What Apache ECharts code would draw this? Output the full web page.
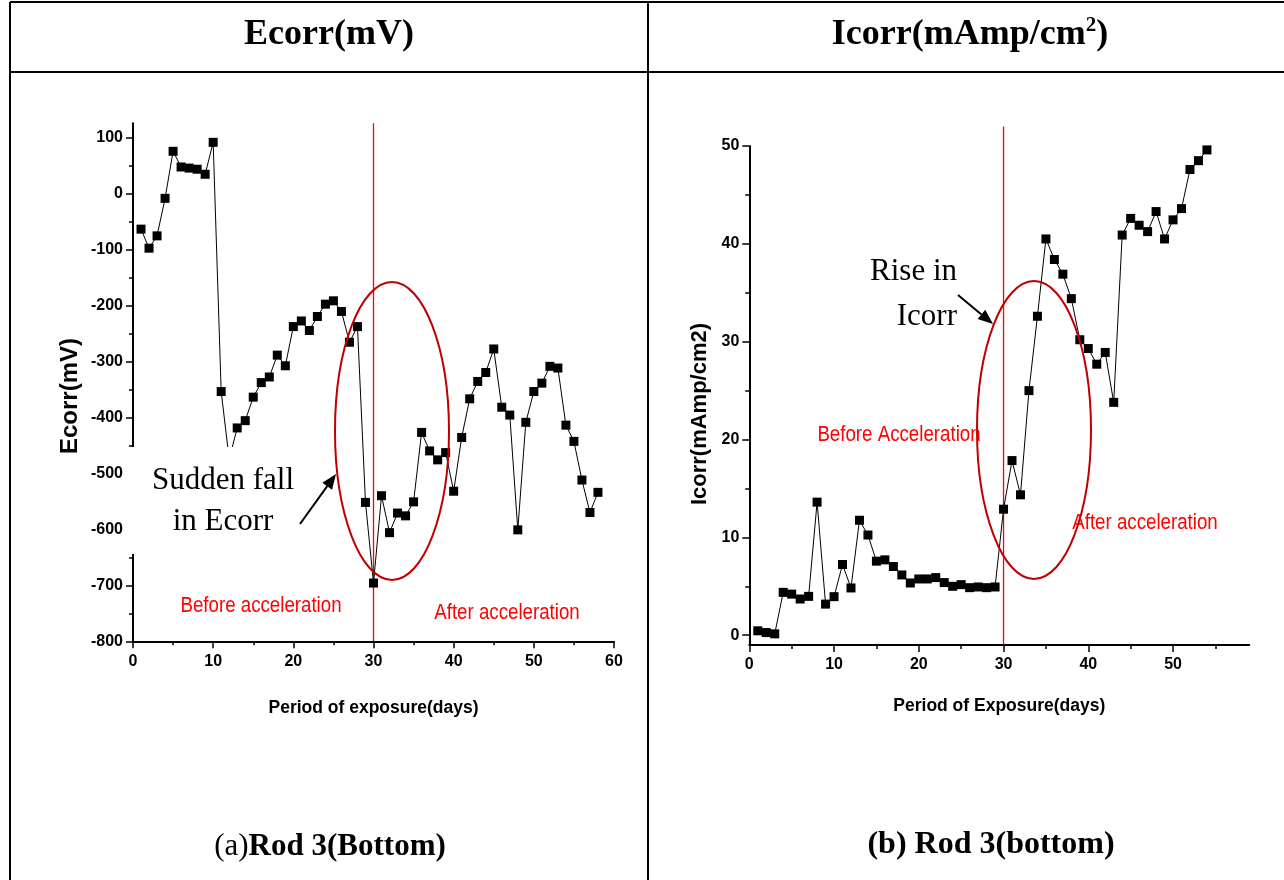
<!DOCTYPE html>
<html>
<head>
<meta charset="utf-8">
<title>Rod 3 (Bottom) - Ecorr and Icorr</title>
<script src="https://cdn.jsdelivr.net/npm/echarts@6/dist/echarts.min.js"></script>
<style>
  html, body { margin: 0; padding: 0; background: #fff; }
  #chart { width: 1284px; height: 880px; }
</style>
</head>
<body>
<div id="chart"></div>
<script>
// Ecorr (mV) vs period of exposure (days)
const ecorrDays = [1, 2, 3, 4, 5, 6, 7, 8, 9, 10, 11, 12, 13, 14, 15, 16, 17, 18, 19, 20,
  21, 22, 23, 24, 25, 26, 27, 28, 29, 30, 31, 32, 33, 34, 35, 36, 37, 38, 39, 40,
  41, 42, 43, 44, 45, 46, 47, 48, 49, 50, 51, 52, 53, 54, 55, 56, 57, 58];
const ecorrValues = [-64, -98, -76, -9, 75, 47, 45, 43, 34, 91, -354, -475, -419, -406, -364, -338, -328, -289, -308, -238,
  -228, -245, -220, -198, -192, -211, -266, -238, -552, -696, -540, -606, -571, -576, -551, -427, -460, -476, -463, -532,
  -436, -367, -336, -320, -278, -382, -396, -601, -409, -354, -339, -309, -312, -414, -443, -512, -570, -534];

// Icorr (mAmp/cm2) vs period of exposure (days)
const icorrDays = [1, 2, 3, 4, 5, 6, 7, 8, 9, 10, 11, 12, 13, 14, 15, 16, 17, 18, 19, 20,
  21, 22, 23, 24, 25, 26, 27, 28, 29, 30, 31, 32, 33, 34, 35, 36, 37, 38, 39, 40,
  41, 42, 43, 44, 45, 46, 47, 48, 49, 50, 51, 52, 53, 54, 55];
const icorrValues = [0.45, 0.27, 0.14, 4.38, 4.2, 3.7, 3.97, 13.6, 3.18, 3.94, 7.23, 4.83, 11.75, 10.24, 7.57, 7.7, 7.02, 6.16, 5.34, 5.75,
  5.75, 5.89, 5.38, 5.0, 5.17, 4.86, 4.93, 4.86, 4.93, 12.88, 17.85, 14.35, 25.0, 32.6, 40.5, 38.4, 36.9, 34.4, 30.2, 29.3,
  27.7, 28.9, 23.8, 40.9, 42.6, 41.9, 41.25, 43.3, 40.5, 42.45, 43.6, 47.6, 48.5, 49.6, 50.8];

// acceleration started on day 30
const accelDay = 30;

// tick labels
const ecorrLabels = [-800, -700, -600, -500, -400, -300, -200, -100, 0, 100];
const ecorrMinor = [-750, -650, -550, -450, -350, -250, -150, -50, 50];
const icorrLabels = [0, 10, 20, 30, 40, 50];
const icorrMinor = [5, 15, 25, 35, 45];
const icorrDayLabels = [0, 10, 20, 30, 40, 50];
const icorrDayMinor = [5, 15, 25, 35, 45, 55];

const sans = "'Liberation Sans', Arial, sans-serif";
const serif = "'Liberation Serif', 'Times New Roman', serif";

const tickFont = { color: '#000', fontFamily: sans, fontWeight: 'bold', fontSize: 16 };
const nameFont = { color: '#000', fontFamily: sans, fontWeight: 'bold', fontSize: 17.5 };
const axisLine = { show: true, onZero: false, lineStyle: { color: '#000', width: 2 } };

function pairs(xs, ys) {
  return xs.map((x, i) => [x, ys[i]]);
}

function arrow(x1, y1, x2, y2) {
  const a = Math.atan2(y2 - y1, x2 - x1);
  const len = 15, half = 6;
  const bx = x2 - len * Math.cos(a), by = y2 - len * Math.sin(a);
  const px = -Math.sin(a) * half, py = Math.cos(a) * half;
  return [
    { type: 'line', z: 100, shape: { x1: x1, y1: y1, x2: bx, y2: by }, style: { stroke: '#000', lineWidth: 2 } },
    { type: 'polygon', z: 100, shape: { points: [[x2, y2], [bx + px, by + py], [bx - px, by - py]] }, style: { fill: '#000' } }
  ];
}

function label(x, y, text, extra, scaleX) {
  return {
    type: 'text', z: 100, x: x, y: y, scaleX: scaleX || 1,
    style: Object.assign({ text: text, fill: '#000', align: 'center', verticalAlign: 'middle' }, extra)
  };
}

// the figure uses a tightly spaced sans face: squeeze it a little
const redText = { fill: '#ff0000', fontFamily: sans, fontSize: 22 };
const noteText = { fontFamily: serif, fontSize: 31 };

const chart = echarts.init(document.getElementById('chart'));

chart.setOption({
  animation: false,
  backgroundColor: '#fff',
  grid: [
    { left: 133, top: 123.3, width: 481, height: 518 },
    { left: 749.3, top: 146, width: 500, height: 499 }
  ],
  xAxis: [
    {
      gridIndex: 0, type: 'value', position: 'bottom', min: 0, max: 60, interval: 10,
      name: 'Period of exposure(days)', nameLocation: 'middle', nameGap: 58,
      nameTextStyle: nameFont,
      axisLine: axisLine,
      axisTick: { length: 7, lineStyle: { color: '#000', width: 1.5 } },
      minorTick: { show: true, splitNumber: 2, length: 4, lineStyle: { color: '#000', width: 1.5 } },
      axisLabel: Object.assign({ margin: 12 }, tickFont),
      splitLine: { show: false }
    },
    {
      gridIndex: 1, type: 'value', position: 'bottom', min: 0, max: 59,
      name: 'Period of Exposure(days)', nameLocation: 'middle', nameGap: 52,
      nameTextStyle: nameFont,
      axisLine: axisLine,
      axisTick: { length: 7, customValues: icorrDayLabels, lineStyle: { color: '#000', width: 1.5 } },
      axisLabel: Object.assign({ margin: 12, customValues: icorrDayLabels }, tickFont),
      splitLine: { show: false }
    },
    {
      gridIndex: 1, type: 'value', position: 'bottom', min: 0, max: 59,
      axisLine: { show: false, onZero: false },
      axisTick: { length: 4, customValues: icorrDayMinor, lineStyle: { color: '#000', width: 1.5 } },
      axisLabel: { show: false },
      splitLine: { show: false }
    }
  ],
  yAxis: [
    {
      gridIndex: 0, type: 'value', position: 'left', min: -800, max: 125,
      axisLine: axisLine,
      axisTick: { length: 7, customValues: ecorrLabels, lineStyle: { color: '#000', width: 1.5 } },
      axisLabel: Object.assign({ margin: 10, customValues: ecorrLabels }, tickFont),
      splitLine: { show: false }
    },
    {
      gridIndex: 0, type: 'value', position: 'left', min: -800, max: 125,
      axisLine: { show: false, onZero: false },
      axisTick: { length: 4, customValues: ecorrMinor, lineStyle: { color: '#000', width: 1.5 } },
      axisLabel: { show: false },
      splitLine: { show: false }
    },
    {
      gridIndex: 1, type: 'value', position: 'left', min: -1, max: 50,
      axisLine: axisLine,
      axisTick: { length: 7, customValues: icorrLabels, lineStyle: { color: '#000', width: 1.5 } },
      axisLabel: Object.assign({ margin: 10, customValues: icorrLabels }, tickFont),
      splitLine: { show: false }
    },
    {
      gridIndex: 1, type: 'value', position: 'left', min: -1, max: 50,
      axisLine: { show: false, onZero: false },
      axisTick: { length: 4, customValues: icorrMinor, lineStyle: { color: '#000', width: 1.5 } },
      axisLabel: { show: false },
      splitLine: { show: false }
    }
  ],
  series: [
    {
      name: 'Ecorr', type: 'line', xAxisIndex: 0, yAxisIndex: 0,
      data: pairs(ecorrDays, ecorrValues),
      symbol: 'rect', symbolSize: 9,
      itemStyle: { color: '#000' },
      lineStyle: { color: '#000', width: 1 },
      z: 3
    },
    {
      name: 'acceleration (Ecorr)', type: 'line', xAxisIndex: 0, yAxisIndex: 0,
      data: [[accelDay, -800], [accelDay, 125]],
      symbol: 'none', silent: true, clip: false,
      itemStyle: { color: '#ff0000' },
      lineStyle: { color: '#ff0000', width: 1.3 },
      z: 2
    },
    {
      name: 'Icorr', type: 'line', xAxisIndex: 1, yAxisIndex: 2,
      data: pairs(icorrDays, icorrValues),
      symbol: 'rect', symbolSize: 9, clip: true,
      itemStyle: { color: '#000' },
      lineStyle: { color: '#000', width: 1 },
      z: 3
    },
    {
      name: 'acceleration (Icorr)', type: 'line', xAxisIndex: 1, yAxisIndex: 2,
      data: [[accelDay, -1], [accelDay, 52]],
      symbol: 'none', silent: true, clip: false,
      itemStyle: { color: '#ff0000' },
      lineStyle: { color: '#ff0000', width: 1.3 },
      z: 2
    }
  ],
  graphic: [
    // table frame
    { type: 'line', shape: { x1: 10, y1: 2, x2: 1284, y2: 2 }, style: { stroke: '#000', lineWidth: 2 } },
    { type: 'line', shape: { x1: 10, y1: 72, x2: 1284, y2: 72 }, style: { stroke: '#000', lineWidth: 2 } },
    { type: 'line', shape: { x1: 10, y1: 2, x2: 10, y2: 880 }, style: { stroke: '#000', lineWidth: 2 } },
    { type: 'line', shape: { x1: 648, y1: 2, x2: 648, y2: 880 }, style: { stroke: '#000', lineWidth: 2 } },

    // column headers
    label(329, 35, 'Ecorr(mV)', { fontFamily: serif, fontWeight: 'bold', fontSize: 36 }),
    label(970, 35, '{a|Icorr(mAmp/cm}{s|2}{a|)}', {
      rich: {
        a: { fontFamily: serif, fontWeight: 'bold', fontSize: 36, lineHeight: 40 },
        s: { fontFamily: serif, fontWeight: 'bold', fontSize: 21, lineHeight: 40, verticalAlign: 'top', padding: [0, 0, 14, 0] }
      }
    }),

    // captions
    label(330, 847, '{n|(a)}{b|Rod 3(Bottom)}', {
      rich: {
        n: { fontFamily: serif, fontSize: 31 },
        b: { fontFamily: serif, fontWeight: 'bold', fontSize: 31 }
      }
    }),
    label(991, 845, '(b) Rod 3(bottom)', { fontFamily: serif, fontWeight: 'bold', fontSize: 32 }),

    // y axis titles
    { type: 'text', z: 100, x: 70, y: 396, rotation: Math.PI / 2,
      style: { text: 'Ecorr(mV)', fill: '#000', align: 'center', verticalAlign: 'middle', fontFamily: sans, fontWeight: 'bold', fontSize: 24 } },
    { type: 'text', z: 100, x: 700, y: 414, rotation: Math.PI / 2,
      style: { text: 'Icorr(mAmp/cm2)', fill: '#000', align: 'center', verticalAlign: 'middle', fontFamily: sans, fontWeight: 'bold', fontSize: 22 } },

    // Ecorr annotations
    { type: 'rect', z: 90, shape: { x: 124, y: 447, width: 178, height: 107 }, style: { fill: '#fff' } },
    label(223, 481, 'Sudden fall', noteText),
    label(223, 522, 'in Ecorr', noteText),
    ...arrow(300, 524, 336, 474),
    { type: 'ellipse', z: 100, shape: { cx: 392, cy: 431, rx: 57, ry: 149 }, style: { fill: null, stroke: '#c00000', lineWidth: 2 } },
    label(261, 606, 'Before acceleration', redText, 0.85),
    label(507, 613, 'After acceleration', redText, 0.85),

    // Icorr annotations
    label(957, 272, 'Rise in', Object.assign({ align: 'right' }, noteText)),
    label(957, 317, 'Icorr', Object.assign({ align: 'right' }, noteText)),
    ...arrow(958, 295, 993, 324),
    { type: 'ellipse', z: 100, shape: { cx: 1034, cy: 430, rx: 57, ry: 149 }, style: { fill: null, stroke: '#c00000', lineWidth: 2 } },
    label(899, 435, 'Before Acceleration', redText, 0.85),
    label(1145, 523, 'After acceleration', redText, 0.85)
  ]
});
</script>
</body>
</html>
